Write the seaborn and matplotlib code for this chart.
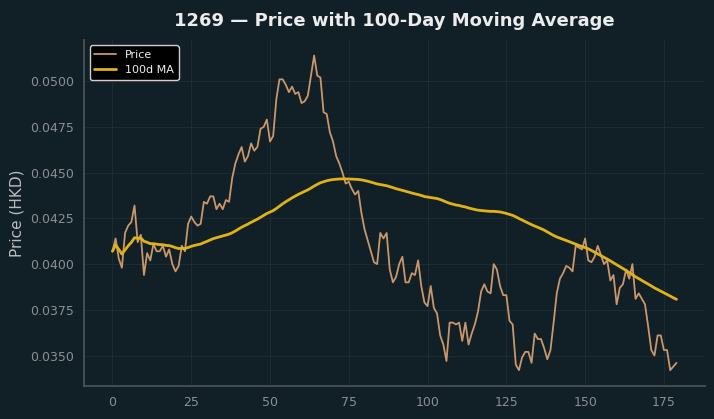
import pandas as pd
import numpy as np
import matplotlib
matplotlib.use("Agg")
import matplotlib.pyplot as plt
import seaborn as sns

# Daily close prices (HKD)
price = [
    0.0407, 0.0414, 0.0403, 0.0398, 0.0417, 0.0421, 0.0423, 0.0432, 0.0412, 0.0416,
    0.0394, 0.0406, 0.0402, 0.0411, 0.0407, 0.0407, 0.0410, 0.0404, 0.0408, 0.0400,
    0.0396, 0.0399, 0.0410, 0.0407, 0.0422, 0.0426, 0.0423, 0.0421, 0.0422, 0.0434,
    0.0433, 0.0437, 0.0437, 0.0430, 0.0433, 0.0430, 0.0435, 0.0434, 0.0447, 0.0455,
    0.0460, 0.0464, 0.0456, 0.0459, 0.0466, 0.0462, 0.0464, 0.0474, 0.0475, 0.0479,
    0.0467, 0.0470, 0.0490, 0.0501, 0.0501, 0.0498, 0.0494, 0.0497, 0.0493, 0.0494,
    0.0488, 0.0489, 0.0492, 0.0503, 0.0514, 0.0503, 0.0502, 0.0483, 0.0482, 0.0472,
    0.0467, 0.0459, 0.0455, 0.0450, 0.0444, 0.0445, 0.0441, 0.0438, 0.0440, 0.0428,
    0.0419, 0.0413, 0.0407, 0.0401, 0.0400, 0.0417, 0.0414, 0.0417, 0.0397, 0.0390,
    0.0393, 0.0400, 0.0404, 0.0390, 0.0390, 0.0395, 0.0394, 0.0402, 0.0388, 0.0379,
    0.0377, 0.0388, 0.0376, 0.0373, 0.0361, 0.0356, 0.0347, 0.0368, 0.0368, 0.0367,
    0.0368, 0.0358, 0.0368, 0.0356, 0.0362, 0.0367, 0.0374, 0.0385, 0.0389, 0.0385,
    0.0384, 0.0400, 0.0397, 0.0388, 0.0383, 0.0383, 0.0369, 0.0367, 0.0345, 0.0342,
    0.0349, 0.0352, 0.0352, 0.0346, 0.0362, 0.0359, 0.0359, 0.0354, 0.0348, 0.0353,
    0.0368, 0.0384, 0.0392, 0.0395, 0.0399, 0.0398, 0.0396, 0.0410, 0.0409, 0.0408,
    0.0414, 0.0402, 0.0401, 0.0404, 0.0410, 0.0405, 0.0400, 0.0402, 0.0391, 0.0394,
    0.0378, 0.0387, 0.0389, 0.0397, 0.0392, 0.0400, 0.0381, 0.0384, 0.0381, 0.0378,
    0.0366, 0.0353, 0.0350, 0.0361, 0.0361, 0.0353, 0.0353, 0.0342, 0.0344, 0.0346,
]
ticker = "1269"
ma_window = 100

bg = "#111f26"
price_color = "#c9976b"
ma_color = "#dfb21c"

df = pd.DataFrame({"day": np.arange(len(price)), "price": price})
df["ma"] = df["price"].rolling(ma_window, min_periods=1).mean()

sns.set_theme(style="dark", rc={
    "figure.facecolor": bg,
    "axes.facecolor": bg,
    "axes.edgecolor": "#4a5358",
    "grid.color": "#1d2b32",
    "xtick.color": "#8a8f92",
    "ytick.color": "#8a8f92",
    "axes.labelcolor": "#b8bcbe",
})
plt.rcParams["font.family"] = ["DejaVu Sans"]

fig, ax = plt.subplots(figsize=(7.14, 4.19), dpi=100)
sns.lineplot(data=df, x="day", y="price", ax=ax, color=price_color, linewidth=1.3, label="Price")
sns.lineplot(data=df, x="day", y="ma", ax=ax, color=ma_color, linewidth=2.0, label=f"{ma_window}d MA")

ax.set_title(f"{ticker} \u2014 Price with {ma_window}-Day Moving Average",
             color="#ececec", fontsize=13, fontweight="bold", pad=10)
ax.set_xlabel("")
ax.set_ylabel("Price (HKD)", fontsize=11)
ax.yaxis.set_major_formatter(matplotlib.ticker.FormatStrFormatter("%.4f"))
ax.grid(True, linewidth=0.8)
ax.tick_params(axis="both", labelsize=9, length=4, width=0.8, colors="#8a8f92")
for side in ["top", "right"]:
    ax.spines[side].set_visible(False)
for side in ["left", "bottom"]:
    ax.spines[side].set_color("#4a5358")

leg = ax.legend(loc="upper left", fontsize=8, facecolor="black", edgecolor="#cfcfcf",
                framealpha=1.0, labelcolor="#eeeeee")

plt.subplots_adjust(left=0.118, right=0.987, top=0.905, bottom=0.079)
plt.savefig("out.png", dpi=100, facecolor=bg)
